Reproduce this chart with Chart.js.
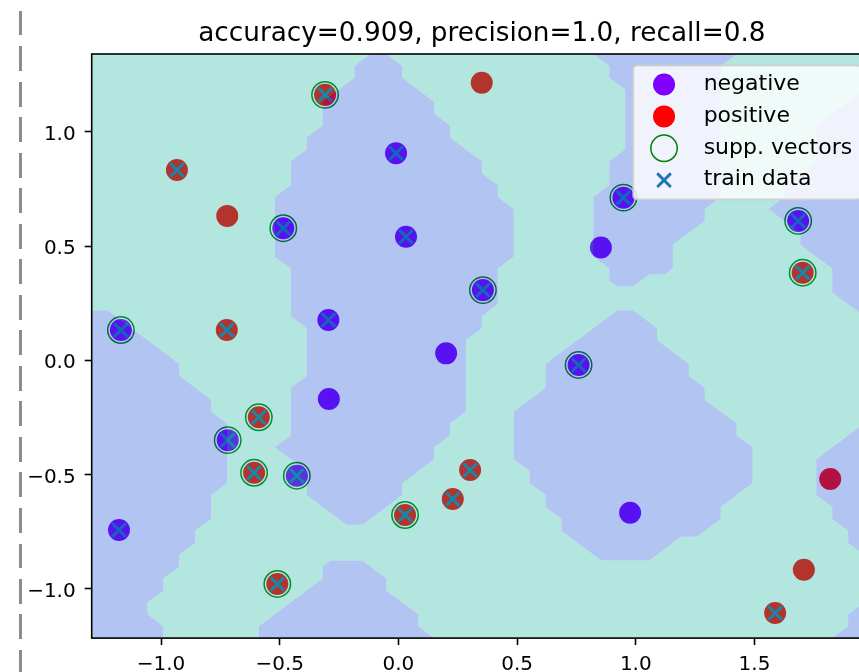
<!DOCTYPE html>
<html>
<head>
<meta charset="utf-8">
<style>
html, body { margin: 0; padding: 0; background: #ffffff; overflow: hidden; width: 859px; height: 672px; }
#wrap { position: relative; width: 859px; height: 672px; overflow: hidden; background: #ffffff; }
#chart { position: absolute; left: 0; top: 0; }
#dash { position: absolute; left: 19px; top: 11px; width: 3px; height: 661px;
  background: repeating-linear-gradient(to bottom, #8c8c8c 0px, #8c8c8c 24.5px, rgba(0,0,0,0) 24.5px, rgba(0,0,0,0) 35.5px); }
</style>
<script src="https://cdn.jsdelivr.net/npm/chart.js@4.4.1/dist/chart.umd.min.js"></script>
</head>
<body>
<div id="wrap">
  <canvas id="chart" width="872" height="672" style="width:872px;height:672px;"></canvas>
  <div id="dash"></div>
</div>
<script>
// ---------------- data ----------------
const titleText = 'accuracy=0.909, precision=1.0, recall=0.8';

const xTicks = [-1.0, -0.5, 0.0, 0.5, 1.0, 1.5];
const xTickLabels = ['\u22121.0', '\u22120.5', '0.0', '0.5', '1.0', '1.5'];
const yTicks = [-1.0, -0.5, 0.0, 0.5, 1.0];
const yTickLabels = ['\u22121.0', '\u22120.5', '0.0', '0.5', '1.0'];

// mesh grid of the decision surface (50 x 50 nodes)
const gridXMin = -1.292, gridXMax = 1.995;
const gridYMin = -1.217, gridYMax = 1.341;
const gridN = 50;

// nodes predicted "negative": [row from top, first column, last column]
const regionA = [[0,18,18],[1,17,19],[2,17,19],[3,16,20],[4,15,21],[5,15,21],[6,15,22],[7,14,22],[8,14,23],[9,13,24],[10,13,24],[11,13,25],[12,12,25],[13,12,26],[14,12,26],[15,12,26],[16,12,26],[17,12,26],[18,13,25],[19,13,25],[20,13,25],[21,13,25],[22,13,24],[23,14,24],[24,14,23],[25,14,23],[26,14,23],[27,14,23],[28,13,23],[29,13,23],[30,13,23],[31,13,22],[32,13,22],[33,12,21],[34,13,21],[35,14,20],[36,14,19],[37,14,19],[38,15,18],[39,16,17]];
const regionB = [[22,0,1],[23,0,2],[24,0,3],[25,0,4],[26,0,5],[27,0,5],[28,0,6],[29,0,7],[30,0,7],[31,0,8],[32,0,8],[33,0,8],[34,0,8],[35,0,8],[36,0,8],[37,0,7],[38,0,7],[39,0,7],[40,0,6],[41,0,6],[42,0,5],[43,0,5],[44,0,4],[45,0,4],[46,0,3],[47,0,3],[48,0,4],[49,0,4]];
const regionC = [[43,15,17],[44,15,18],[45,14,18],[46,13,19],[47,12,20],[48,11,20],[49,11,21]];
const regionD = [[22,33,34],[23,32,35],[24,31,35],[25,30,36],[26,29,37],[27,29,37],[28,29,38],[29,28,38],[30,27,39],[31,27,40],[32,27,40],[33,27,41],[34,27,41],[35,28,41],[36,28,41],[37,29,40],[38,29,39],[39,30,39],[40,30,38],[41,31,36],[42,32,35]];
const regionE = [[0,32,40],[1,33,39],[2,33,39],[3,34,39],[4,34,39],[5,34,39],[6,34,39],[7,34,39],[8,34,39],[9,33,39],[10,33,39],[11,33,39],[12,32,39],[13,32,38],[14,32,38],[15,32,37],[16,32,36],[17,32,36],[18,33,36],[19,33,34]];
const regionF = [[3,49,49],[4,48,49],[5,47,49],[6,46,49],[7,46,49],[8,46,49],[9,46,49],[10,45,49],[11,44,49],[12,44,49],[13,43,49],[14,44,49],[15,45,49],[16,45,49],[17,46,49],[18,47,49],[19,47,49],[20,47,49],[21,48,49],[22,49,49]];
const regionG = [[31,49,49],[32,48,49],[33,47,49],[34,46,49],[35,46,49],[36,46,49],[37,46,49],[38,47,49],[39,47,49],[40,48,49],[41,48,49],[42,49,49]];
const regionH = [[46,49,49],[47,48,49],[48,48,49],[49,47,49]];

// samples
const pointX = [-0.309,-0.933,-0.485,-0.010,0.032,-1.169,-0.723,-0.295,0.356,0.948,1.684,1.703,0.759,-0.588,-0.719,-0.608,-0.428,-1.177,0.028,-0.510,0.302,0.229,1.587,0.351,-0.721,0.853,0.201,-0.293,0.976,1.819,1.708];
const pointY = [1.162,0.833,0.578,0.906,0.541,0.132,0.132,0.176,0.307,0.712,0.610,0.383,-0.021,-0.250,-0.350,-0.493,-0.506,-0.744,-0.678,-0.980,-0.481,-0.608,-1.107,1.215,0.632,0.494,0.030,-0.170,-0.668,-0.520,-0.918];
const pointClass = [1,1,0,0,0,0,1,0,0,0,0,1,0,1,0,1,0,0,1,1,1,1,1,1,1,0,0,0,0,1,1];
const pointIsTrain = [1,1,1,1,1,1,1,1,1,1,1,1,1,1,1,1,1,1,1,1,1,1,1,0,0,0,0,0,0,0,0];
const pointIsSupport = [1,0,1,0,0,1,0,0,1,1,1,1,1,1,1,1,1,0,1,1,0,0,0,0,0,0,0,0,0,0,0];

// ---------------- build ----------------
const pick = (flags, want) => pointX.map((x, i) => ({x, y: pointY[i], k: flags[i]})).filter(p => p.k === want).map(p => ({x: p.x, y: p.y}));

const grid = Array.from({length: gridN}, () => new Array(gridN).fill(0));
[regionA, regionB, regionC, regionD, regionE, regionF, regionG, regionH].forEach(reg => {
  reg.forEach(([r, a, b]) => { for (let c = a; c <= b; c++) grid[r][c] = 1; });
});

function addRegionPath(ctx, chart) {
  const xs = chart.scales.x, ys = chart.scales.y;
  const dx = (gridXMax - gridXMin) / (gridN - 1);
  const dy = (gridYMax - gridYMin) / (gridN - 1);
  const px = c => xs.getPixelForValue(gridXMin + c * dx);
  const py = r => ys.getPixelForValue(gridYMax - r * dy);
  for (let r = 0; r < gridN - 1; r++) {
    for (let c = 0; c < gridN - 1; c++) {
      const corners = [[c, r], [c + 1, r], [c + 1, r + 1], [c, r + 1]];
      const vals = corners.map(([cc, rr]) => grid[rr][cc]);
      if (!vals.some(v => v)) continue;
      const pts = [];
      for (let k = 0; k < 4; k++) {
        const k2 = (k + 1) % 4;
        if (vals[k]) pts.push(corners[k]);
        if (vals[k] !== vals[k2]) pts.push([(corners[k][0] + corners[k2][0]) / 2, (corners[k][1] + corners[k2][1]) / 2]);
      }
      ctx.moveTo(px(pts[0][0]), py(pts[0][1]));
      for (let k = 1; k < pts.length; k++) ctx.lineTo(px(pts[k][0]), py(pts[k][1]));
      ctx.closePath();
    }
  }
}

const surfacePlugin = {
  id: 'decisionSurface',
  afterDatasetsDraw(chart) {
    const {ctx, chartArea: a} = chart;
    ctx.save();
    ctx.beginPath();
    ctx.rect(a.left, a.top, a.right - a.left, a.bottom - a.top);
    ctx.clip();
    ctx.beginPath();
    addRegionPath(ctx, chart);
    ctx.fillStyle = 'rgba(0,58,210,0.3)';
    ctx.fill('nonzero');
    ctx.beginPath();
    ctx.rect(a.left, a.top, a.right - a.left, a.bottom - a.top);
    addRegionPath(ctx, chart);
    ctx.fillStyle = 'rgba(0,172,150,0.3)';
    ctx.fill('evenodd');
    ctx.restore();
  }
};

function drawMarker(ctx, ds, x, y) {
  ctx.save();
  const r = ds.pointRadius;
  ctx.lineWidth = ds.pointBorderWidth;
  ctx.strokeStyle = ds.pointBorderColor;
  ctx.fillStyle = ds.pointBackgroundColor;
  ctx.beginPath();
  if (ds.pointStyle === 'crossRot') {
    const d = r * Math.SQRT1_2;
    ctx.moveTo(x - d, y - d); ctx.lineTo(x + d, y + d);
    ctx.moveTo(x + d, y - d); ctx.lineTo(x - d, y + d);
    ctx.stroke();
  } else {
    ctx.arc(x, y, r, 0, Math.PI * 2);
    ctx.fill();
    if (ds.pointBorderWidth > 0) ctx.stroke();
  }
  ctx.restore();
}

const framePlugin = {
  id: 'frameAndLegend',
  afterDraw(chart) {
    const {ctx, chartArea: a} = chart;
    ctx.save();
    ctx.strokeStyle = '#000000';
    ctx.lineWidth = 1.6;
    ctx.strokeRect(a.left, a.top, a.right - a.left, a.bottom - a.top);
    // legend box
    const fs = 22;
    ctx.font = fs + 'px "DejaVu Sans"';
    const dsets = chart.data.datasets;
    const textW = Math.max(...dsets.map(d => ctx.measureText(d.label).width));
    const right = a.right - 11, top = a.top + 11.5;
    const left = right - (70.4 + textW + 8.8);
    const h = 134;
    ctx.beginPath();
    ctx.roundRect(left, top, right - left, h, 4);
    ctx.fillStyle = 'rgba(255,255,255,0.8)';
    ctx.fill();
    ctx.lineWidth = 2;
    ctx.strokeStyle = 'rgba(204,204,204,0.8)';
    ctx.stroke();
    dsets.forEach((ds, k) => {
      const y = top + 19 + k * 31.9;
      drawMarker(ctx, ds, left + 30.8, y);
      ctx.fillStyle = '#000000';
      ctx.textAlign = 'left';
      ctx.textBaseline = 'middle';
      ctx.fillText(ds.label, left + 70.4, y - 0.5);
    });
    ctx.restore();
  }
};

Chart.defaults.font.family = '"DejaVu Sans", sans-serif';
Chart.defaults.color = '#000000';

const tickFont = {family: '"DejaVu Sans", sans-serif', size: 20};

new Chart(document.getElementById('chart'), {
  type: 'scatter',
  data: {
    datasets: [
      {label: 'negative', data: pick(pointClass, 0), order: 4,
       pointStyle: 'circle', pointRadius: 11, pointBackgroundColor: '#7f00ff', pointBorderColor: '#7f00ff', pointBorderWidth: 0},
      {label: 'positive', data: pick(pointClass, 1), order: 3,
       pointStyle: 'circle', pointRadius: 11, pointBackgroundColor: '#ff0000', pointBorderColor: '#ff0000', pointBorderWidth: 0},
      {label: 'supp. vectors', data: pick(pointIsSupport, 1), order: 2,
       pointStyle: 'circle', pointRadius: 13.2, pointBackgroundColor: 'rgba(0,0,0,0)', pointBorderColor: '#008000', pointBorderWidth: 1.5},
      {label: 'train data', data: pick(pointIsTrain, 1), order: 1,
       pointStyle: 'crossRot', pointRadius: 9.6, pointBackgroundColor: '#1f77b4', pointBorderColor: '#1f77b4', pointBorderWidth: 3}
    ]
  },
  options: {
    responsive: false,
    animation: false,
    devicePixelRatio: 1,
    events: [],
    layout: {autoPadding: false, padding: {left: 0, right: 0, top: 0, bottom: 0}},
    plugins: {
      legend: {display: false},
      tooltip: {enabled: false},
      title: {
        display: true, text: titleText, color: '#000000', fullSize: false,
        font: {family: '"DejaVu Sans", sans-serif', size: 26.3, weight: 'normal', lineHeight: 1.2},
        padding: {top: 18.6, bottom: 3.84}
      }
    },
    scales: {
      x: {
        type: 'linear', min: gridXMin, max: gridXMax,
        afterBuildTicks: s => { s.ticks = xTicks.map(v => ({value: v})); },
        afterFit: s => { s.height = 33.9; },
        ticks: {callback: v => xTickLabels[xTicks.indexOf(v)], color: '#000000', font: tickFont, padding: 7.5, maxRotation: 0, autoSkip: false},
        grid: {drawOnChartArea: false, drawTicks: true, tickLength: 7, tickColor: '#000000', tickWidth: 1.6},
        border: {display: false}
      },
      y: {
        type: 'linear', min: gridYMin, max: gridYMax,
        afterBuildTicks: s => { s.ticks = yTicks.map(v => ({value: v})); },
        afterFit: s => { s.width = 91.7; },
        ticks: {callback: v => yTickLabels[yTicks.indexOf(v)], color: '#000000', font: tickFont, padding: 9, labelOffset: 3, autoSkip: false},
        grid: {drawOnChartArea: false, drawTicks: true, tickLength: 7, tickColor: '#000000', tickWidth: 1.6},
        border: {display: false}
      }
    }
  },
  plugins: [surfacePlugin, framePlugin]
});
</script>
</body>
</html>
